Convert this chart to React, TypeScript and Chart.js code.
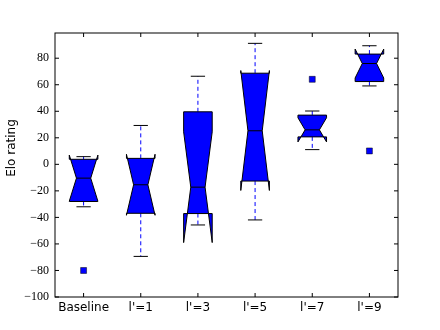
import React, { useEffect, useRef } from "react";
import { Chart, registerables } from "chart.js";

Chart.register(...registerables);

// ---- data ----
const categories = ["Baseline", "l'=1", "l'=3", "l'=5", "l'=7", "l'=9"];
const whiskerLow = [-32, -69.4, -45.7, -41.9, 11.1, 59.1];
const quartile1 = [-28, -36.9, -37.1, -12.6, 20.7, 62.4];
const medians = [-10.4, -15.4, -17.2, 25.3, 26, 76];
const quartile3 = [3.8, 4.5, 39.6, 68.7, 37.1, 83.1];
const whiskerHigh = [5.8, 29.3, 66.4, 91.2, 40.2, 89.4];
const notchLow = [-27.8, -38.4, -59, -19.7, 16.9, 65.1];
const notchHigh = [7, 7.6, 24.5, 70.7, 35.1, 86.9];
const outliers: (number | null)[] = [-80, null, null, null, 64.1, 10.1];
const yTicks = [-100, -80, -60, -40, -20, 0, 20, 40, 60, 80];
const Y_MIN = -100;
const Y_MAX = 99;
const Y_TITLE = "Elo rating";

const boxPlugin = {
  id: "notchBoxes",
  beforeDatasetsDraw(chart: any) {
    const { ctx, scales } = chart;
    const x = scales.x;
    const y = scales.y;
    const unit = x.getPixelForValue(1) - x.getPixelForValue(0);
    const bh = unit * 0.25;
    const nh = unit * 0.125;
    const Y = (v: number) => y.getPixelForValue(v);
    ctx.save();
    categories.forEach((_, i) => {
      const cx = x.getPixelForValue(i);
      const L = cx - bh, R = cx + bh, cL = cx - nh, cR = cx + nh;
      // whiskers
      ctx.setLineDash([4, 3]);
      ctx.strokeStyle = "#0000ff";
      ctx.lineWidth = 1;
      ctx.beginPath();
      ctx.moveTo(cx, Y(quartile1[i]));
      ctx.lineTo(cx, Y(whiskerLow[i]));
      ctx.moveTo(cx, Y(quartile3[i]));
      ctx.lineTo(cx, Y(whiskerHigh[i]));
      ctx.stroke();
      ctx.setLineDash([]);
      // caps
      ctx.strokeStyle = "#000";
      ctx.beginPath();
      ctx.moveTo(cL, Y(whiskerLow[i]));
      ctx.lineTo(cR, Y(whiskerLow[i]));
      ctx.moveTo(cL, Y(whiskerHigh[i]));
      ctx.lineTo(cR, Y(whiskerHigh[i]));
      ctx.stroke();
      // notched box
      const xs = [L, R, R, cR, R, R, L, L, cL, L, L];
      const vs = [
        quartile1[i], quartile1[i], notchLow[i], medians[i], notchHigh[i],
        quartile3[i], quartile3[i], notchHigh[i], medians[i], notchLow[i], quartile1[i],
      ];
      ctx.beginPath();
      xs.forEach((px, k) => {
        if (k === 0) ctx.moveTo(px, Y(vs[k]));
        else ctx.lineTo(px, Y(vs[k]));
      });
      ctx.closePath();
      ctx.fillStyle = "#0000ff";
      ctx.fill();
      ctx.strokeStyle = "#000";
      ctx.lineWidth = 1;
      ctx.stroke();
      // median
      ctx.beginPath();
      ctx.moveTo(cL, Y(medians[i]));
      ctx.lineTo(cR, Y(medians[i]));
      ctx.stroke();
    });
    ctx.restore();
  },
  afterDraw(chart: any) {
    const { ctx, chartArea, scales } = chart;
    const { left, right, top, bottom } = chartArea;
    ctx.save();
    ctx.strokeStyle = "#000";
    ctx.lineWidth = 1;
    ctx.strokeRect(left, top, right - left, bottom - top);
    ctx.beginPath();
    scales.y.ticks.forEach((t: any) => {
      const py = scales.y.getPixelForValue(t.value);
      ctx.moveTo(left, py);
      ctx.lineTo(left + 4, py);
      ctx.moveTo(right, py);
      ctx.lineTo(right - 4, py);
    });
    categories.forEach((_, i) => {
      const px = scales.x.getPixelForValue(i);
      ctx.moveTo(px, bottom);
      ctx.lineTo(px, bottom - 4);
      ctx.moveTo(px, top);
      ctx.lineTo(px, top + 4);
    });
    ctx.stroke();
    // y-axis title
    ctx.translate(12, (top + bottom) / 2 - 17);
    ctx.rotate(-Math.PI / 2);
    ctx.font = "12px 'DejaVu Sans'";
    ctx.fillStyle = "#000";
    ctx.textAlign = "center";
    ctx.textBaseline = "middle";
    ctx.fillText(Y_TITLE, 0, 0);
    ctx.restore();
  },
};

export default function App() {
  const ref = useRef<HTMLCanvasElement | null>(null);
  useEffect(() => {
    document.body.style.margin = "0";
    const canvas = ref.current!;
    const chart = new Chart(canvas, {
      type: "line",
      data: {
        labels: categories,
        datasets: [
          {
            data: outliers as any,
            showLine: false,
            pointStyle: "rect",
            pointRadius: 4.2,
            pointHoverRadius: 4.2,
            pointBackgroundColor: "#0000ff",
            pointBorderColor: "#000",
            pointBorderWidth: 0.5,
          },
        ],
      },
      options: {
        animation: false,
        responsive: false,
        maintainAspectRatio: false,
        devicePixelRatio: 1,
        layout: { padding: { top: 33, right: 42, left: 0, bottom: 0 } },
        plugins: { legend: { display: false }, tooltip: { enabled: false } },
        events: [],
        scales: {
          x: {
            offset: true,
            grid: { display: false, drawTicks: false },
            border: { display: false },
            ticks: {
              font: { family: "DejaVu Sans", size: 12 },
              color: "#000",
              padding: 4,
              maxRotation: 0,
              autoSkip: false,
            },
            afterFit(s: any) {
              s.height = 33;
            },
          },
          y: {
            min: Y_MIN,
            max: Y_MAX,
            grid: { display: false, drawTicks: false },
            border: { display: false },
            afterBuildTicks(s: any) {
              s.ticks = yTicks.map((v) => ({ value: v }));
            },
            ticks: {
              callback: (v: any) => String(v).replace("-", "\u2212"),
              font: { family: "Liberation Serif", size: 12 },
              color: "#000",
              padding: 6,
            },
            afterFit(s: any) {
              s.width = 55;
            },
          },
        },
      },
      plugins: [boxPlugin],
    });
    return () => chart.destroy();
  }, []);
  return (
    <canvas
      ref={ref}
      width={440}
      height={330}
      style={{ display: "block", width: 440, height: 330 }}
    />
  );
}
